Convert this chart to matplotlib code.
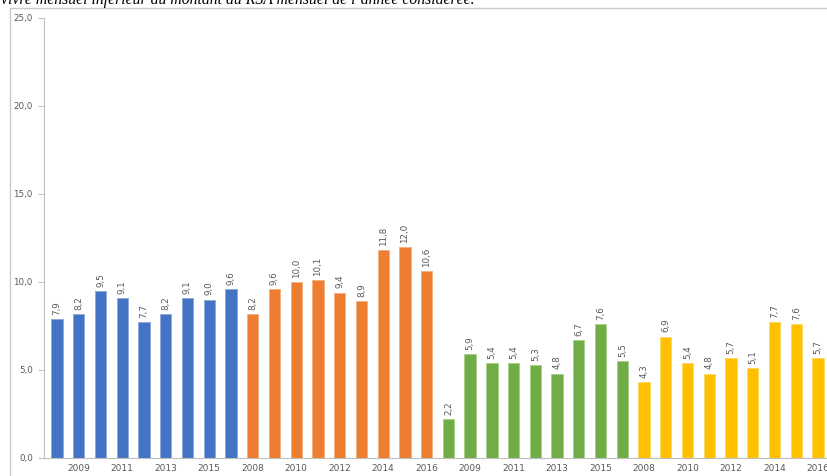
import matplotlib
matplotlib.use("Agg")
import matplotlib.pyplot as plt
from matplotlib.lines import Line2D

years = [2008, 2009, 2010, 2011, 2012, 2013, 2014, 2015, 2016]
blue_vals = [7.9, 8.2, 9.5, 9.1, 7.7, 8.2, 9.1, 9.0, 9.6]
orange_vals = [8.2, 9.6, 10.0, 10.1, 9.4, 8.9, 11.8, 12.0, 10.6]
green_vals = [2.2, 5.9, 5.4, 5.4, 5.3, 4.8, 6.7, 7.6, 5.5]
yellow_vals = [4.3, 6.9, 5.4, 4.8, 5.7, 5.1, 7.7, 7.6, 5.7]
groups = [blue_vals, orange_vals, green_vals, yellow_vals]
colors = ["#4472C4", "#ED7D31", "#70AD47", "#FFC000"]
edges = ["#8FAADC", "#F4B183", "#A9D18E", "#FFD966"]
yticks = [0, 5, 10, 15, 20, 25]
title_text = "vivre mensuel inférieur au montant du RSA mensuel de l\u2019année considérée."

W, H = 828, 476
fig = plt.figure(figsize=(W / 100, H / 100), dpi=100)

# title (cut at the top, as in the reference)
fig.text(1.0 / W, 1 - 4.2 / H, title_text, fontsize=11.3, style="italic",
         family="Liberation Serif", va="baseline", ha="left", color="#000000")

# chart area border
bc = "#c9c9c9"
fig.add_artist(Line2D([10 / W, 1.0], [1 - 8 / H, 1 - 8 / H], color=bc, lw=1.0))
fig.add_artist(Line2D([10 / W, 10 / W], [0, 1 - 8 / H], color=bc, lw=1.0))

ax = fig.add_axes([44 / W, 18 / H, 1 - 44 / W, (458 - 18) / H])

tick_pos, tick_lab = [], []
idx = 0
for g, vals in enumerate(groups):
    for k, v in enumerate(vals):
        ax.bar(idx, v, width=0.52, color=colors[g], edgecolor=edges[g], linewidth=0.7)
        ax.annotate(f"{v:.1f}".replace(".", ","), (idx, v), xytext=(0, 3),
                    textcoords="offset points", rotation=90, ha="center", va="bottom",
                    fontsize=6.3, color="#595959")
        if idx % 2 == 1:
            tick_pos.append(idx)
            tick_lab.append(str(years[k]))
        idx += 1

ax.set_xlim(-0.6, 35.46)
ax.set_ylim(0, 25)
ax.set_yticks(yticks)
ax.set_yticklabels([f"{t:.1f}".replace(".", ",") for t in yticks], fontsize=6.3, color="#595959")
ax.set_xticks(tick_pos)
ax.set_xticklabels(tick_lab, fontsize=6.5, color="#595959")
ax.tick_params(axis="x", length=0, pad=4)
ax.tick_params(axis="y", length=4, width=0.8, color="#bfbfbf", pad=4)
for s in ["top", "right"]:
    ax.spines[s].set_visible(False)
ax.spines["left"].set_color("#bfbfbf")
ax.spines["bottom"].set_color("#bfbfbf")
ax.spines["left"].set_linewidth(0.8)
ax.spines["bottom"].set_linewidth(0.8)

fig.savefig("out.png", dpi=100)
